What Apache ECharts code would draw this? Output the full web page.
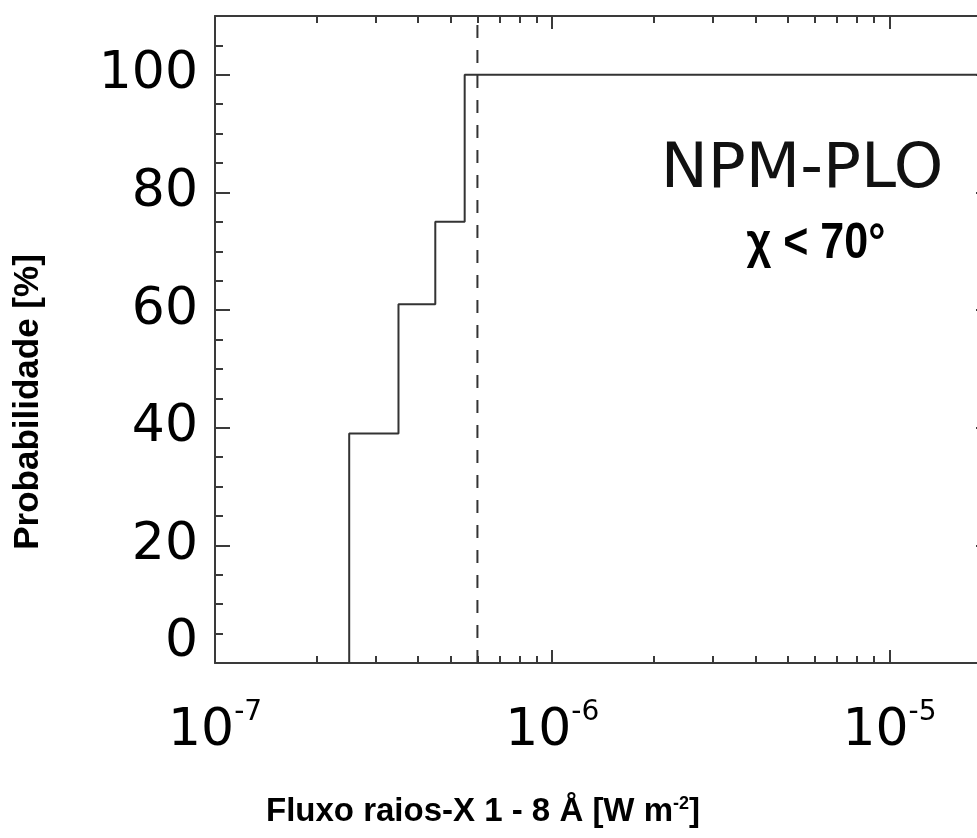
<!DOCTYPE html>
<html><head><meta charset="utf-8">
<script src="https://cdn.jsdelivr.net/npm/echarts@6/dist/echarts.min.js"></script>
<style>html,body{margin:0;padding:0;background:#fff}#c{width:977px;height:838px}</style>
</head><body><div id="c"></div>
<script>
// ---- data ----
const binEdges = [2.5e-7, 3.5e-7, 4.5e-7, 5.5e-7];
const probabilities = [39, 61, 75, 100];
const xMin = 1e-7, xMax = 2e-5;
const thresholdFlux = 6e-7;
const xMajorTicks = [1e-7, 1e-6, 1e-5];
const xMinorTicks = [2e-7, 3e-7, 4e-7, 5e-7, 6e-7, 7e-7, 8e-7, 9e-7,
                     2e-6, 3e-6, 4e-6, 5e-6, 6e-6, 7e-6, 8e-6, 9e-6];
const yMin = 0, yMax = 110, yMajorStep = 20, yMinorStep = 5;
const panelLabel = 'NPM-PLO';
const panelSubLabel = 'χ < 70°';
const xTitle = 'Fluxo raios-X 1 - 8 Å [W m{s|-2}]';
const yTitle = 'Probabilidade [%]';

// ---- build step line ----
const stepPts = [[binEdges[0], 0]];
for (let i = 0; i < binEdges.length; i++) {
  stepPts.push([binEdges[i], probabilities[i]]);
  const next = i + 1 < binEdges.length ? binEdges[i + 1] : xMax;
  stepPts.push([next, probabilities[i]]);
}
const thresholdPts = [[thresholdFlux, yMin], [thresholdFlux, yMax]];

const AX = '#3a3a3a';
const labelFont = 'DejaVu Sans';

function xAx(pos, major) {
  return {
    type: 'log', logBase: 10, min: xMin, max: xMax, position: pos, gridIndex: 0,
    axisLine: { show: major, onZero: false, lineStyle: { color: AX, width: 2 } },
    axisTick: { show: true, inside: true, length: major ? 13 : 7,
      customValues: major ? xMajorTicks : xMinorTicks,
      lineStyle: { color: AX, width: 2 } },
    axisLabel: (major && pos === 'bottom') ? {
      show: true, customValues: xMajorTicks, margin: 36,
      formatter: v => '{b|10}{s|' + Math.round(Math.log10(v)) + '}',
      rich: {
        b: { fontSize: 52, fontFamily: labelFont, color: '#000' },
        s: { fontSize: 28, fontFamily: labelFont, color: '#000', padding: [0, 0, 36, 0] }
      }
    } : { show: false },
    splitLine: { show: false }, minorTick: { show: false }
  };
}
function yAx(pos, major) {
  return {
    type: 'value', min: yMin, max: yMax, interval: major ? yMajorStep : yMinorStep,
    position: pos, gridIndex: 0,
    axisLine: { show: major, onZero: false, lineStyle: { color: AX, width: 2 } },
    axisTick: { show: true, inside: true, length: major ? 15 : 8,
      lineStyle: { color: AX, width: 2 } },
    axisLabel: (major && pos === 'left') ? {
      show: true, margin: 17, fontSize: 52, fontFamily: labelFont, color: '#000',
      formatter: v => v > 100 ? '' : (v === 0 ? '{z|0}' : String(v)),
      rich: { z: { fontSize: 52, fontFamily: labelFont, color: '#000', padding: [0, 0, 42, 0] } }
    } : { show: false },
    splitLine: { show: false }
  };
}

const chart = echarts.init(document.getElementById('c'), null, { renderer: 'canvas' });
chart.setOption({
  animation: false,
  backgroundColor: '#fff',
  grid: { left: 215, top: 16, width: 776, height: 647, containLabel: false, outerBoundsMode: 'none' },
  xAxis: [xAx('bottom', true), xAx('bottom', false), xAx('top', true), xAx('top', false)],
  yAxis: [yAx('left', true), yAx('left', false), yAx('right', true), yAx('right', false)],
  series: [{
    type: 'line', xAxisIndex: 0, yAxisIndex: 0, data: stepPts,
    symbol: 'none', silent: true,
    lineStyle: { color: '#333', width: 2 }
  }, {
    type: 'line', xAxisIndex: 0, yAxisIndex: 0, data: thresholdPts,
    symbol: 'none', silent: true,
    lineStyle: { color: '#333', width: 2, type: [13, 12] }
  }],
  graphic: [
    { type: 'text', x: 802, y: 171, style: { text: panelLabel, fontSize: 63,
      fontFamily: labelFont, fill: '#111', textAlign: 'center', textVerticalAlign: 'middle' } },
    { type: 'text', x: 816, y: 244, scaleX: 0.86, style: { text: panelSubLabel, fontSize: 50,
      fontWeight: 'bold', fontFamily: 'Liberation Sans', fill: '#000', textAlign: 'center', textVerticalAlign: 'middle' } },
    { type: 'text', x: 28, y: 402, rotation: Math.PI / 2, style: { text: yTitle, fontSize: 35,
      fontWeight: 'bold', fontFamily: 'Liberation Sans', fill: '#000', textAlign: 'center', textVerticalAlign: 'middle' } },
    { type: 'text', x: 483, y: 812, style: { text: xTitle, fontSize: 33,
      fontWeight: 'bold', fontFamily: 'Liberation Sans', fill: '#000', textAlign: 'center', textVerticalAlign: 'middle',
      rich: { s: { fontSize: 18, fontWeight: 'bold', fontFamily: 'Liberation Sans', fill: '#000', padding: [0, 0, 16, 0] } } } }
  ]
});
</script></body></html>
